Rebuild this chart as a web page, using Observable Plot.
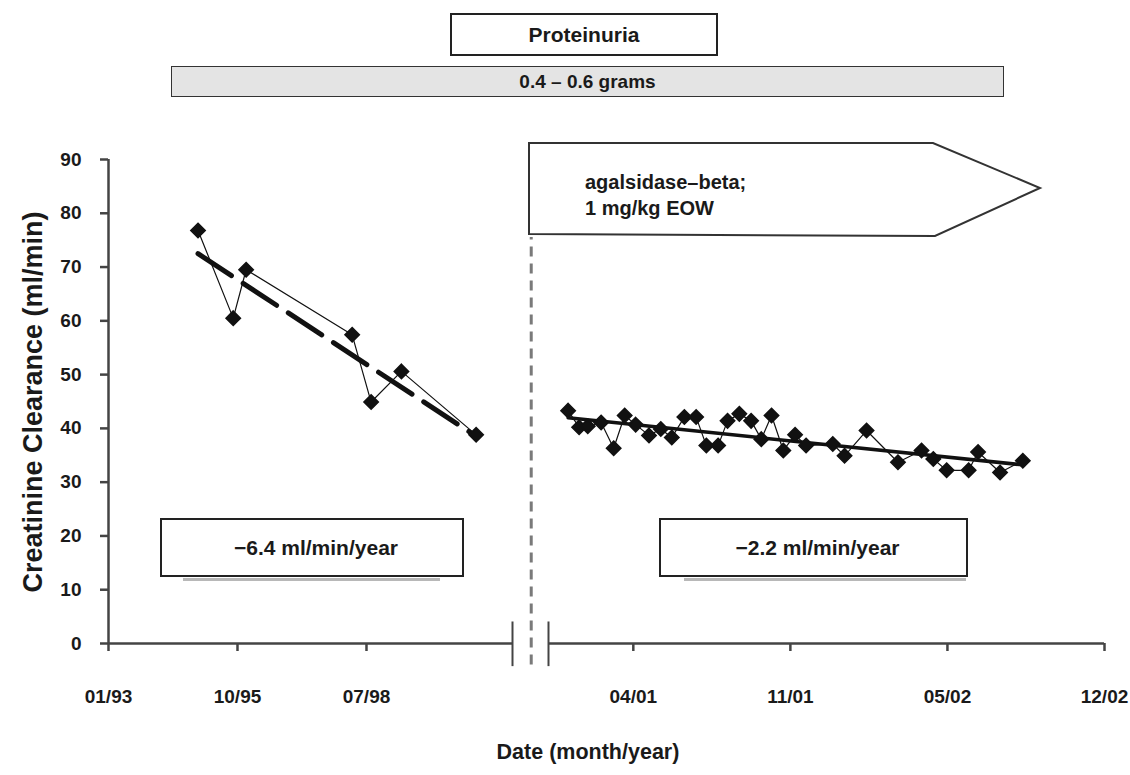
<!DOCTYPE html>
<html><head><meta charset="utf-8">
<script src="https://cdn.jsdelivr.net/npm/d3@7"></script>
<script src="https://cdn.jsdelivr.net/npm/@observablehq/plot@0.6"></script>
<style>
body{margin:0;background:#fff;}
#root{position:relative;width:1130px;height:775px;overflow:hidden;font-family:"Liberation Sans",Arial,sans-serif;font-weight:bold;color:#1a1a1a;}
#root svg.chart{position:absolute;left:0;top:0;}
#root [aria-label="x-axis tick"] path,#root [aria-label="y-axis tick"] path,#root g.tick line{stroke:#444;stroke-width:2.5;}
.box{position:absolute;box-sizing:border-box;display:flex;align-items:center;justify-content:center;white-space:nowrap;}
.shadow{position:absolute;height:3px;background:#b8b8b8;}
</style></head><body><div id="root"></div>
<script>
// ---- data ----
const preDates  = ["1994-12-10","1995-09-09","1995-12-18","1998-03-19","1998-08-13","1999-04-05","2000-11-04"];
const preValues = [76.8, 60.5, 69.5, 57.4, 44.9, 50.6, 38.8];

const postDates = ["2001-02-01","2001-02-15","2001-02-26","2001-03-15","2001-03-31","2001-04-14","2001-04-28",
  "2001-05-15","2001-05-30","2001-06-13","2001-06-29","2001-07-14","2001-07-27","2001-08-11","2001-08-23",
  "2001-09-07","2001-09-22","2001-10-05","2001-10-18","2001-11-02","2001-11-17","2001-12-01","2002-01-04",
  "2002-01-19","2002-02-16","2002-03-28","2002-04-27","2002-05-12","2002-05-29","2002-06-26","2002-07-08",
  "2002-08-05","2002-09-03"];
const postValues = [43.3, 40.2, 40.4, 41.1, 36.3, 42.4, 40.7, 38.7, 39.9, 38.3, 42.1, 42.1, 36.8, 36.8, 41.4,
  42.7, 41.4, 38.0, 42.4, 35.9, 38.8, 36.8, 37.1, 34.9, 39.6, 33.7, 35.9, 34.3, 32.2, 32.2, 35.6, 31.8, 34.0];

const preTicks  = ["1993-01-15","1995-10-12","1998-07-08"];
const postTicks = ["2001-04-25","2001-11-11","2002-05-30","2002-12-16"];
const preAxisRange  = ["1993-01-15","2001-08-13"];
const postAxisRange = ["2001-01-07","2002-12-16"];
const treatmentStart = "2000-12-16";
const yTicks = [0,10,20,30,40,50,60,70,80,90];
const preRate = "\u22126.4 ml/min/year";
const postRate = "\u22122.2 ml/min/year";

// ---- build ----
const parse = d3.utcParse("%Y-%m-%d");
const fmt = d3.utcFormat("%m/%y");
const pre = preDates.map((d,i)=>({date:parse(d), value:preValues[i]}));
const post = postDates.map((d,i)=>({date:parse(d), value:postValues[i]}));
const root = document.getElementById("root");
const W = 1130, H = 775;
const LEFT_END = 512, RIGHT_START = 548;
const common = {
  width: W, height: H, marginTop: 159, marginBottom: 132,
  style: {background:"transparent", fontFamily:'"Liberation Sans", Arial, sans-serif', fontSize:"19px", fontWeight:"bold", color:"#1a1a1a", overflow:"visible"}
};
const axisStroke = "#444";

const leftPlot = Plot.plot({
  ...common,
  marginLeft: 108, marginRight: W - LEFT_END,
  x: {type:"utc", domain: preAxisRange.map(parse), ticks: preTicks.map(parse), tickFormat: fmt, tickSize: 8, tickPadding: 38, label: null},
  y: {domain:[0,90], ticks: yTicks, tickSize: 8, tickPadding: 19, label: null},
  marks: [
    Plot.ruleY([0], {stroke: axisStroke, strokeWidth: 2.5}),
    Plot.ruleX([parse(preAxisRange[0])], {y1: 0, y2: 90, stroke: axisStroke, strokeWidth: 2.5}),
    Plot.ruleX([parse(preAxisRange[1])], {y1: -4.3, y2: 4, stroke: axisStroke, strokeWidth: 2}),
    Plot.linearRegressionY(pre, {x:"date", y:"value", ci: 0, stroke:"#111", strokeWidth: 5, strokeDasharray:"40,14"}),
    Plot.line(pre, {x:"date", y:"value", stroke:"#111", strokeWidth: 1.2}),
    Plot.dot(pre, {x:"date", y:"value", symbol:"diamond2", r: 6.5, fill:"#111", stroke:"#111"})
  ]
});
leftPlot.classList.add("chart");
root.appendChild(leftPlot);

const rightPlot = Plot.plot({
  ...common,
  marginLeft: RIGHT_START, marginRight: 26,
  x: {type:"utc", domain: postAxisRange.map(parse), ticks: postTicks.map(parse), tickFormat: fmt, tickSize: 8, tickPadding: 38, label: null},
  y: {domain:[0,90], axis: null},
  marks: [
    Plot.ruleY([0], {stroke: axisStroke, strokeWidth: 2.5}),
    Plot.ruleX([parse(postAxisRange[0])], {y1: -4.3, y2: 4, stroke: axisStroke, strokeWidth: 2}),
    Plot.ruleX([parse(treatmentStart)], {y1: -4, y2: 75.5, stroke:"#7a7a7a", strokeWidth: 3, strokeDasharray:"10,7"}),
    Plot.linearRegressionY(post, {x:"date", y:"value", ci: 0, stroke:"#111", strokeWidth: 3.5}),
    Plot.line(post, {x:"date", y:"value", stroke:"#111", strokeWidth: 1.2}),
    Plot.dot(post, {x:"date", y:"value", symbol:"diamond2", r: 6.5, fill:"#111", stroke:"#111"})
  ]
});
rightPlot.classList.add("chart");
root.appendChild(rightPlot);

// ---- annotations ----
function box(text, css){ const d=document.createElement("div"); d.className="box"; d.textContent=text; Object.assign(d.style, css); root.appendChild(d); return d; }
function shadow(css){ const d=document.createElement("div"); d.className="shadow"; Object.assign(d.style, css); root.appendChild(d); }

box("Proteinuria", {left:"450px", top:"13px", width:"268px", height:"43px", border:"2px solid #222", background:"#fff", fontSize:"21px"});
box("0.4 \u2013 0.6 grams", {left:"171px", top:"66px", width:"833px", height:"31px", border:"1.5px solid #333", background:"#e4e4e4", fontSize:"19px"});

shadow({left:"183px", top:"578px", width:"257px"});
box(preRate, {left:"160px", top:"518px", width:"304px", height:"59px", border:"2px solid #222", background:"#fff", fontSize:"21px", paddingLeft:"8px"});
shadow({left:"684px", top:"578px", width:"282px"});
box(postRate, {left:"659px", top:"518px", width:"309px", height:"59px", border:"2px solid #222", background:"#fff", fontSize:"21px", paddingLeft:"8px"});

// treatment arrow
const ns = "http://www.w3.org/2000/svg";
const arrow = document.createElementNS(ns, "svg");
arrow.setAttribute("width", W); arrow.setAttribute("height", H);
arrow.style.cssText = "position:absolute;left:0;top:0;pointer-events:none;";
const poly = document.createElementNS(ns, "polygon");
poly.setAttribute("points", "529,143 933,143 1040,188 935,236 529,234");
poly.setAttribute("fill", "#fff"); poly.setAttribute("stroke", "#333"); poly.setAttribute("stroke-width", "2");
arrow.appendChild(poly);
[["agalsidase\u2013beta;", 189], ["1 mg/kg EOW", 215]].forEach(([t, y]) => {
  const tx = document.createElementNS(ns, "text");
  tx.setAttribute("x", 585); tx.setAttribute("y", y);
  tx.setAttribute("font-size", "20"); tx.setAttribute("font-weight", "bold");
  tx.setAttribute("font-family", '"Liberation Sans", Arial, sans-serif'); tx.setAttribute("fill", "#1a1a1a");
  tx.textContent = t; arrow.appendChild(tx);
});
root.appendChild(arrow);

// axis titles
box("Creatinine Clearance (ml/min)", {left:(33-250)+"px", top:(402-16)+"px", width:"500px", height:"32px", fontSize:"27px", transform:"rotate(-90deg)"});
box("Date (month/year)", {left:"388px", top:"737px", width:"400px", height:"30px", fontSize:"21.5px"});
</script></body></html>
